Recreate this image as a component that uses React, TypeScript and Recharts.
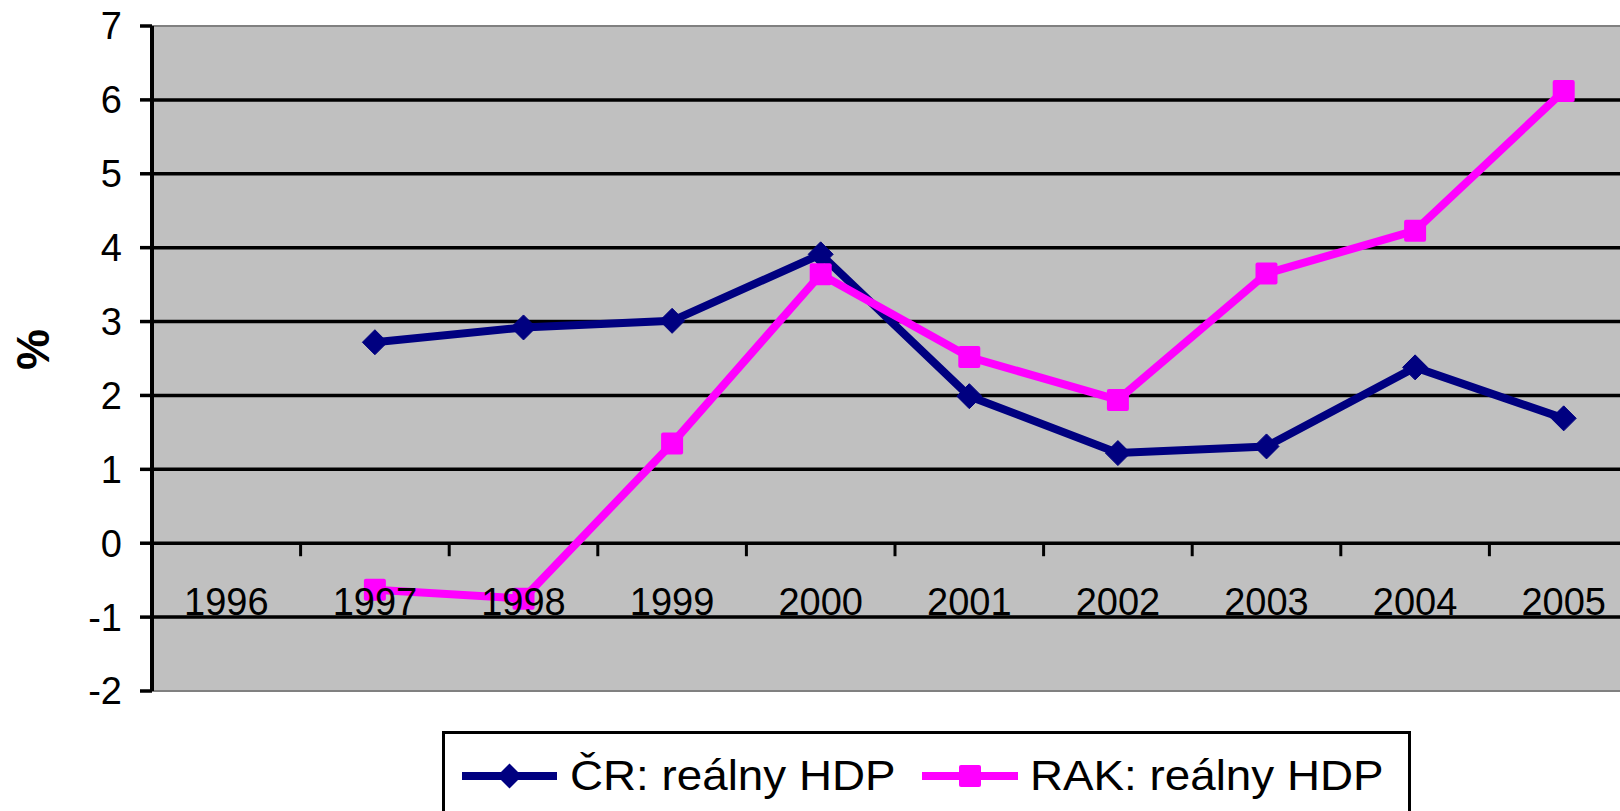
import React from 'react';
import { LineChart, Line, XAxis, YAxis, ReferenceArea, ReferenceLine, ReferenceDot } from 'recharts';

const years = ['1996', '1997', '1998', '1999', '2000', '2001', '2002', '2003', '2004', '2005'];
const crValues: (number | null)[] = [null, 2.72, 2.92, 3.01, 3.91, 1.99, 1.22, 1.31, 2.38, 1.69];
const rakValues: (number | null)[] = [null, -0.63, -0.75, 1.35, 3.64, 2.52, 1.94, 3.65, 4.23, 6.12];
const yTicks = [-2, -1, 0, 1, 2, 3, 4, 5, 6, 7];
const gridValues = [-1, 0, 1, 2, 3, 4, 5, 6];
const crName = 'ČR: reálny HDP';
const rakName = 'RAK: reálny HDP';
const yLabel = '%';

const CR_COLOR = '#000080';
const RAK_COLOR = '#FF00FF';
const FONT = '"Liberation Sans", Arial, sans-serif';

const data = years.map((year, i) => ({ pos: i + 0.5, year, cr: crValues[i], rak: rakValues[i] }));
const boundaries = years.slice(1).map((_, i) => i + 1);

const diamondPath = (cx: number, cy: number, s: number) =>
  `M${cx},${cy - s}L${cx + s},${cy}L${cx},${cy + s}L${cx - s},${cy}Z`;

const DiamondDot = (p: any) => {
  const { cx, cy } = p;
  if (cx == null || cy == null || p.value == null) return <g key={p.key ?? `d${p.index}`} />;
  return (
    <path key={p.key ?? `d${p.index}`} d={diamondPath(cx, cy, 12.5)} fill={CR_COLOR} stroke={CR_COLOR} strokeWidth={1} strokeLinejoin="round" />
  );
};

const SquareDot = (p: any) => {
  const { cx, cy } = p;
  if (cx == null || cy == null || p.value == null) return <g key={p.key ?? `s${p.index}`} />;
  return <rect key={p.key ?? `s${p.index}`} x={cx - 11} y={cy - 11} width={22} height={22} rx={2} fill={RAK_COLOR} />;
};

const TickMark = (p: any) => (
  <line x1={p.cx} y1={p.cy} x2={p.cx} y2={p.cy + 13} stroke="#000" strokeWidth={3} />
);

const makeYearLabel = (year: string) => (p: any) => (
  <text x={p.cx} y={p.cy + 72} textAnchor="middle" fontSize={38} fontFamily={FONT} fill="#000">
    {year}
  </text>
);

const YLabel = (props: any) => {
  const vb = props.viewBox || { x: 0, y: 0, width: 0, height: 0 };
  const cx = vb.x + 33;
  const cy = vb.y + vb.height / 2 - 9;
  return (
    <text x={cx} y={cy} transform={`rotate(-90 ${cx} ${cy})`} textAnchor="middle" dominantBaseline="central" fontSize={46} fontWeight="bold" fontFamily={FONT} fill="#000">
      {yLabel}
    </text>
  );
};

const Legend = () => (
  <svg width={972} height={82} style={{ position: 'absolute', left: 442, top: 731, overflow: 'visible' }}>
    <rect x={1.5} y={1.5} width={966} height={120} fill="#fff" stroke="#000" strokeWidth={3} />
    <line x1={20} y1={45} x2={115} y2={45} stroke={CR_COLOR} strokeWidth={8} />
    <path d={diamondPath(67.5, 45, 12.5)} fill={CR_COLOR} />
    <text transform="translate(128,59) scale(1.09,1)" fontSize={42} fontFamily={FONT} fill="#000">
      {crName}
    </text>
    <line x1={480} y1={45} x2={576} y2={45} stroke={RAK_COLOR} strokeWidth={8} />
    <rect x={517} y={34} width={22} height={22} rx={2} fill={RAK_COLOR} />
    <text transform="translate(588,59) scale(1.09,1)" fontSize={42} fontFamily={FONT} fill="#000">
      {rakName}
    </text>
  </svg>
);

export default function App() {
  return (
    <div style={{ position: 'fixed', left: 0, top: 0, width: 1620, height: 811, overflow: 'hidden', background: '#fff' }}>
      <LineChart width={1638} height={811} data={data} margin={{ top: 26, right: 0, bottom: 120, left: 0 }}>
        <ReferenceArea x1={0} x2={10} y1={-2} y2={7} fill="#C0C0C0" fillOpacity={1} stroke="#808080" strokeWidth={2} />
        {gridValues.map((v) => (
          <ReferenceLine key={`g${v}`} y={v} stroke="#000" strokeWidth={3.5} />
        ))}
        <XAxis dataKey="pos" type="number" domain={[0, 10]} hide allowDataOverflow />
        <YAxis
          domain={[-2, 7]}
          ticks={yTicks}
          interval={0}
          width={152}
          tickSize={12}
          tickMargin={18}
          allowDataOverflow
          axisLine={{ stroke: '#000', strokeWidth: 4 }}
          tickLine={{ stroke: '#000', strokeWidth: 3.5 }}
          tick={{ fill: '#000', fontSize: 38, fontFamily: FONT }}
          label={<YLabel />}
        />
        {boundaries.map((b) => (
          <ReferenceDot key={`t${b}`} x={b} y={0} r={0} shape={TickMark} />
        ))}
        <Line dataKey="cr" name={crName} stroke={CR_COLOR} strokeWidth={8} dot={DiamondDot} activeDot={false} isAnimationActive={false} connectNulls={false} />
        <Line dataKey="rak" name={rakName} stroke={RAK_COLOR} strokeWidth={8} dot={SquareDot} activeDot={false} isAnimationActive={false} connectNulls={false} />
        {data.map((d) => (
          <ReferenceDot key={`l${d.year}`} x={d.pos} y={0} r={0} shape={makeYearLabel(d.year)} />
        ))}
      </LineChart>
      <Legend />
    </div>
  );
}
